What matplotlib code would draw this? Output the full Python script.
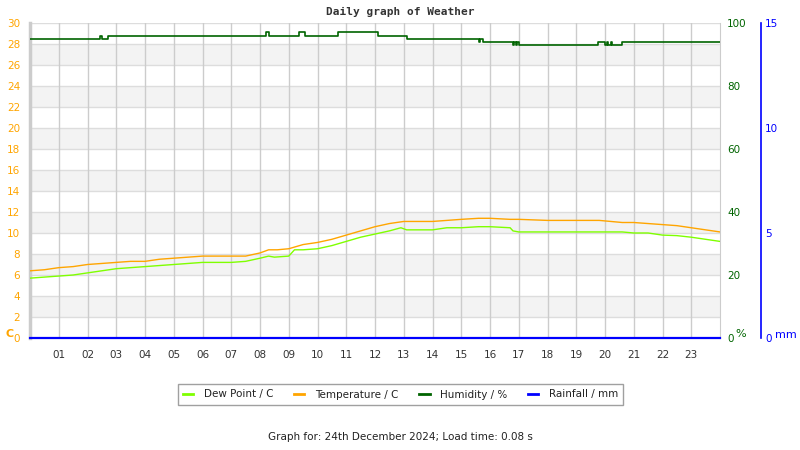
import matplotlib
matplotlib.use("Agg")
import matplotlib.pyplot as plt

# --- data ---
hours = list(range(1, 24))
hour_labels = ["%02d" % h for h in hours]

temp_t = [0, 0.5, 1, 1.5, 2, 2.5, 3, 3.5, 4, 4.5, 5, 5.5, 6, 6.5, 7, 7.5, 8, 8.3, 8.6, 9,
          9.5, 10, 10.5, 11, 11.5, 12, 12.5, 13, 14, 14.5, 15, 15.6, 16, 16.7, 17, 18,
          19, 19.8, 20.6, 21, 21.5, 22, 22.5, 23, 23.5, 24]
temp_v = [6.4, 6.5, 6.7, 6.8, 7.0, 7.1, 7.2, 7.3, 7.3, 7.5, 7.6, 7.7, 7.8, 7.8, 7.8, 7.8, 8.1, 8.4, 8.4, 8.5,
          8.9, 9.1, 9.4, 9.8, 10.2, 10.6, 10.9, 11.1, 11.1, 11.2, 11.3, 11.4, 11.4, 11.3, 11.3, 11.2,
          11.2, 11.2, 11.0, 11.0, 10.9, 10.8, 10.7, 10.5, 10.3, 10.1]

dew_t = [0, 0.5, 1, 1.5, 2, 2.5, 3, 3.5, 4, 4.5, 5, 5.5, 6, 6.5, 7, 7.5, 8, 8.3, 8.5, 9, 9.2,
         9.5, 10, 10.5, 11, 11.5, 12, 12.5, 12.9, 13.1, 14, 14.5, 15, 15.6, 16, 16.7, 16.8,
         17, 18, 19, 19.8, 20.6, 21, 21.5, 22, 22.5, 23, 23.5, 24]
dew_v = [5.7, 5.8, 5.9, 6.0, 6.2, 6.4, 6.6, 6.7, 6.8, 6.9, 7.0, 7.1, 7.2, 7.2, 7.2, 7.3, 7.6, 7.8, 7.7, 7.8, 8.4,
         8.4, 8.5, 8.8, 9.2, 9.6, 9.9, 10.2, 10.5, 10.3, 10.3, 10.5, 10.5, 10.6, 10.6, 10.5, 10.2,
         10.1, 10.1, 10.1, 10.1, 10.1, 10.0, 10.0, 9.8, 9.75, 9.6, 9.4, 9.2]

hum_t = [0, 2.45, 2.5, 2.7, 8.2, 8.3, 9.37, 9.57, 10.7, 12.1, 13.1, 15.6, 15.65, 15.75,
         16.8, 16.85, 16.9, 16.95, 17.0, 19.77, 20.0, 20.07, 20.12, 20.2, 20.25, 20.6, 24]
hum_v = [95, 96, 95, 96, 97, 96, 97, 96, 97, 96, 95, 94, 95, 94,
         93, 94, 93, 94, 93, 94, 93, 94, 93, 94, 93, 94, 94]

rain_t = [0, 24]
rain_v = [0, 0]

grey_bands = [(2, 4), (6, 8), (10, 12), (14, 16), (18, 20), (22, 24), (26, 28)]

c_temp = "#FFA500"
c_dew = "#7FFF00"
c_hum = "#006400"
c_rain = "#0000FF"

fig = plt.figure(figsize=(8, 4.5), dpi=100)
ax = fig.add_axes([30 / 800, 1 - 338 / 450, 690 / 800, 315 / 450])

for lo, hi in grey_bands:
    ax.axhspan(lo, hi, color="#F3F3F3", lw=0, zorder=0)
for y in range(2, 31, 2):
    ax.axhline(y, color="#DDDDDD", lw=1, zorder=1)
for h in hours:
    ax.axvline(h, color="#CCCCCC", lw=1, zorder=1)

ax.set_xlim(0, 24)
ax.set_ylim(0, 30)
ax.set_xticks(hours)
ax.set_xticklabels(hour_labels)
ax.set_yticks(range(0, 31, 2))
ax.tick_params(axis="x", length=0, pad=9, labelsize=7.5, colors="#333333")
ax.tick_params(axis="y", length=0, pad=7, labelsize=7.5, colors=c_temp)
for s in ["top", "bottom"]:
    ax.spines[s].set_visible(False)
ax.spines["left"].set_color("#CCCCCC")
ax.spines["left"].set_linewidth(2.5)
ax.spines["right"].set_color("#CCCCCC")

l_dew, = ax.plot(dew_t, dew_v, color=c_dew, lw=1, zorder=3, label="Dew Point / C")
l_temp, = ax.plot(temp_t, temp_v, color=c_temp, lw=1, zorder=3, label="Temperature / C")

ax_h = ax.twinx()
ax_h.set_ylim(0, 100)
ax_h.set_yticks(range(0, 101, 20))
ax_h.tick_params(axis="y", length=0, pad=5, labelsize=7.5, colors=c_hum)
for s in ax_h.spines.values():
    s.set_visible(False)
l_hum, = ax_h.step(hum_t, hum_v, where="post", color=c_hum, lw=1.2, zorder=3, label="Humidity / %")

ax_r = ax.twinx()
ax_r.set_ylim(0, 15)
ax_r.set_yticks([0, 5, 10, 15])
ax_r.spines["right"].set_position(("axes", (761 - 30) / 690))
ax_r.spines["right"].set_color(c_rain)
ax_r.spines["right"].set_linewidth(1.2)
for s in ["top", "bottom", "left"]:
    ax_r.spines[s].set_visible(False)
ax_r.tick_params(axis="y", length=0, pad=3, labelsize=7.5, colors=c_rain)
l_rain, = ax_r.plot(rain_t, rain_v, color=c_rain, lw=1.6, zorder=4, clip_on=False, label="Rainfall / mm")

fig.text(5 / 800, 1 - 334 / 450, "C", color=c_temp, fontsize=8, fontweight="bold", va="center")
fig.text(735 / 800, 1 - 334 / 450, "%", color=c_hum, fontsize=8, va="center")
fig.text(775 / 800, 1 - 335 / 450, "mm", color=c_rain, fontsize=8, va="center")

fig.text(0.5, 1 - 12 / 450, "Daily graph of Weather", ha="center", va="center",
         family="DejaVu Sans Mono", fontweight="bold", fontsize=8, color="#333333")

leg = fig.legend(handles=[l_dew, l_temp, l_hum, l_rain], loc="center", ncol=4,
                 bbox_to_anchor=(400.5 / 800, 1 - 394.5 / 450), fontsize=7.5,
                 handlelength=1.0, columnspacing=2.0, handletextpad=1.0,
                 fancybox=False, edgecolor="#888888", borderpad=0.5)
leg.get_frame().set_linewidth(1)
for line in leg.get_lines():
    line.set_linewidth(2)
for t in leg.get_texts():
    t.set_color("#222222")

fig.text(0.5, 1 - 437 / 450, "Graph for: 24th December 2024; Load time: 0.08 s",
         ha="center", va="center", fontsize=7.5, color="#222222")

fig.savefig("out.png", dpi=100)
